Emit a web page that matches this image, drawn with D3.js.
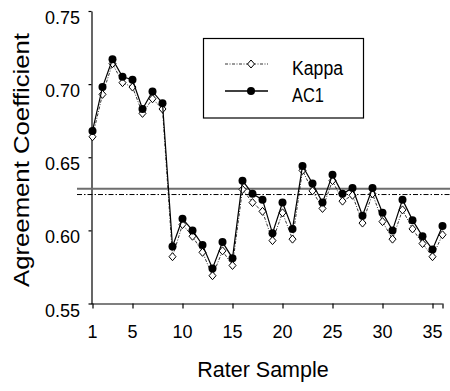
<!DOCTYPE html>
<html>
<head>
<meta charset="utf-8">
<script src="https://cdn.jsdelivr.net/npm/d3@7"></script>
<style>
  body { margin: 0; background: #fff; }
  text { font-family: "Liberation Sans", Arial, sans-serif; fill: #000; }
</style>
</head>
<body>
<svg></svg>
<script>
// rater samples 1..36
var samples = d3.range(1, 37)

var ac1 = [0.668, 0.698, 0.717, 0.705, 0.703, 0.683, 0.695, 0.687, 0.589,
           0.608, 0.600, 0.590, 0.574, 0.592, 0.581, 0.634, 0.625, 0.621,
           0.598, 0.619, 0.601, 0.644, 0.632, 0.619, 0.638, 0.625, 0.629,
           0.610, 0.629, 0.612, 0.600, 0.621, 0.607, 0.596, 0.587, 0.603]

var kappa = [0.664, 0.693, 0.714, 0.701, 0.698, 0.680, 0.690, 0.683, 0.582,
             0.604, 0.596, 0.585, 0.569, 0.586, 0.576, 0.628, 0.619, 0.613,
             0.593, 0.612, 0.594, 0.641, 0.627, 0.615, 0.634, 0.620, 0.624,
             0.605, 0.625, 0.606, 0.594, 0.614, 0.601, 0.591, 0.582, 0.597]

// overall means drawn as horizontal lines
var ac1Mean = 0.6285
var kappaMean = 0.6245

var yTicks = [0.55, 0.60, 0.65, 0.70, 0.75]
var xTicks = [1, 5, 10, 15, 20, 25, 30, 35]

var width = 450
var height = 391

var svg = d3.select('svg')
  .attr('width', width)
  .attr('height', height)

var xScale = d3.scaleLinear()
  .domain([1, 36])
  .range([92.5, 442.5])

var yScale = d3.scaleLinear()
  .domain([0.55, 0.75])
  .range([303.5, 11])

// axes
var xAxis = svg.append('g')
  .attr('transform', `translate(0,${yScale(0.55)})`)
  .call(d3.axisBottom(xScale).tickValues(xTicks.concat([36])).tickSize(5).tickSizeOuter(0).tickFormat(''))
xAxis.select('.domain').attr('d', `M91,0.5H${xScale(36)}`)

var yAxis = svg.append('g')
  .attr('transform', 'translate(91.5,0)')
  .call(d3.axisLeft(yScale).tickValues(yTicks).tickSize(3).tickSizeOuter(0).tickFormat(''))

svg.selectAll('.domain, .tick line').attr('stroke', '#000').attr('stroke-width', 1.2)

svg.append('g')
  .selectAll('text')
  .data(xTicks)
  .enter()
  .append('text')
    .attr('x', d => xScale(d))
    .attr('y', 338)
    .attr('text-anchor', 'middle')
    .style('font-size', '18px')
    .text(d => d)

svg.append('g')
  .selectAll('text')
  .data(yTicks)
  .enter()
  .append('text')
    .attr('x', 80)
    .attr('y', d => yScale(d) + 13)
    .attr('text-anchor', 'end')
    .style('font-size', '18px')
    .text(d => d.toFixed(2))

svg.append('text')
  .attr('x', 263)
  .attr('y', 377)
  .attr('text-anchor', 'middle')
  .style('font-size', '21.5px')
  .text('Rater Sample')

svg.append('text')
  .attr('transform', 'translate(29,160) rotate(-90)')
  .attr('text-anchor', 'middle')
  .attr('textLength', 254)
  .attr('lengthAdjust', 'spacingAndGlyphs')
  .style('font-size', '22px')
  .text('Agreement Coefficient')

// mean lines
svg.append('line')
  .attr('x1', 77).attr('x2', width)
  .attr('y1', yScale(ac1Mean)).attr('y2', yScale(ac1Mean))
  .attr('stroke', '#6e6e6e')
  .attr('stroke-width', 2)

svg.append('line')
  .attr('x1', 77).attr('x2', width)
  .attr('y1', yScale(kappaMean)).attr('y2', yScale(kappaMean))
  .attr('stroke', '#000')
  .attr('stroke-width', 1)
  .attr('stroke-dasharray', '5,2,1.5,2')

function diamond(x, y) {
  return `M${x},${y - 4}L${x + 3.5},${y}L${x},${y + 4}L${x - 3.5},${y}Z`
}

// kappa series
var kappaLine = d3.line()
  .x((d, i) => xScale(samples[i]))
  .y(d => yScale(d))

svg.append('path')
  .datum(kappa)
  .attr('d', kappaLine)
  .attr('fill', 'none')
  .attr('stroke', '#000')
  .attr('stroke-width', 0.8)
  .attr('stroke-dasharray', '3,1.5,1,1.5')

svg.append('g')
  .selectAll('path')
  .data(kappa)
  .enter()
  .append('path')
    .attr('d', (d, i) => diamond(xScale(samples[i]), yScale(d)))
    .attr('fill', '#fff')
    .attr('stroke', '#000')
    .attr('stroke-width', 1)

// AC1 series
svg.append('path')
  .datum(ac1)
  .attr('d', kappaLine)
  .attr('fill', 'none')
  .attr('stroke', '#000')
  .attr('stroke-width', 1.2)

svg.append('g')
  .selectAll('circle')
  .data(ac1)
  .enter()
  .append('circle')
    .attr('cx', (d, i) => xScale(samples[i]))
    .attr('cy', d => yScale(d))
    .attr('r', 4)
    .attr('fill', '#000')

// legend
var legend = svg.append('g')

legend.append('rect')
  .attr('x', 203.5).attr('y', 38.5)
  .attr('width', 160).attr('height', 79.5)
  .attr('fill', '#fff')
  .attr('stroke', '#000')
  .attr('stroke-width', 1.2)

legend.append('line')
  .attr('x1', 225).attr('x2', 268)
  .attr('y1', 64).attr('y2', 64)
  .attr('stroke', '#000')
  .attr('stroke-width', 0.8)
  .attr('stroke-dasharray', '3,1.5,1,1.5')

legend.append('path')
  .attr('d', diamond(251, 64))
  .attr('fill', '#fff')
  .attr('stroke', '#000')

legend.append('line')
  .attr('x1', 225).attr('x2', 268)
  .attr('y1', 91).attr('y2', 91)
  .attr('stroke', '#000')
  .attr('stroke-width', 1.5)

legend.append('circle')
  .attr('cx', 251).attr('cy', 91).attr('r', 4)
  .attr('fill', '#000')

legend.append('text')
  .attr('x', 292).attr('y', 74.5)
  .attr('textLength', 51)
  .attr('lengthAdjust', 'spacingAndGlyphs')
  .style('font-size', '20px')
  .text('Kappa')

legend.append('text')
  .attr('x', 292).attr('y', 101.5)
  .attr('textLength', 32)
  .attr('lengthAdjust', 'spacingAndGlyphs')
  .style('font-size', '20px')
  .text('AC1')
</script>
</body>
</html>
